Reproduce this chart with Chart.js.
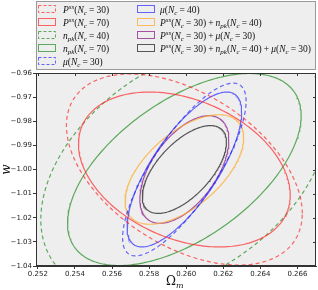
<!DOCTYPE html>
<html>
<head>
<meta charset="utf-8">
<script src="https://cdn.jsdelivr.net/npm/chart.js@4"></script>
<style>
  html, body { margin: 0; padding: 0; background: #fff; }
</style>
</head>
<body>
<canvas id="contours" width="318" height="290"></canvas>
<script>
// forecast contours, one entry per probe combination
const labels = [
  "P^{ss}(N_c=30)",
  "P^{ss}(N_c=70)",
  "n_{pk}(N_c=40)",
  "n_{pk}(N_c=70)",
  "μ(N_c=30)",
  "μ(N_c=40)",
  "P^{ss}(N_c=30)+n_{pk}(N_c=40)",
  "P^{ss}(N_c=30)+μ(N_c=30)",
  "P^{ss}(N_c=30)+n_{pk}(N_c=40)+μ(N_c=30)"
];
const colors = [
  "rgba(255,40,40,0.7)", "rgba(255,40,40,0.7)",
  "rgba(30,140,30,0.7)", "rgba(30,140,30,0.7)",
  "rgba(40,40,255,0.7)", "rgba(40,40,255,0.7)",
  "rgba(255,170,40,0.75)", "rgba(140,30,140,0.75)", "rgba(20,20,20,0.7)"
];
const dashed = [true, false, true, false, true, false, false, false, false];

// fiducial point and contour half-widths / correlations
const fidOm = 0.2599;
const fidW = -1.0;
const sigOm = [0.00636, 0.00571, 0.00774, 0.00630, 0.00333, 0.00309, 0.00320, 0.00240, 0.00227];
const sigW  = [0.0396, 0.0321, 0.0518, 0.0398, 0.0358, 0.0321, 0.0227, 0.0223, 0.0182];
const corr  = [-0.46, -0.33, 0.40, 0.56, 0.79, 0.74, 0.58, 0.55, 0.62];

const xTicks = [0.252, 0.254, 0.256, 0.258, 0.260, 0.262, 0.264, 0.266];
const yTicks = [-1.04, -1.03, -1.02, -1.01, -1.00, -0.99, -0.98, -0.97, -0.96];

function contour(i) {
  const pts = [];
  const n = 240;
  const s = Math.sqrt(1 - corr[i] * corr[i]);
  for (let k = 0; k <= n; k++) {
    const t = 2 * Math.PI * k / n;
    pts.push({
      x: fidOm + sigOm[i] * Math.cos(t),
      y: fidW + sigW[i] * (corr[i] * Math.cos(t) + s * Math.sin(t))
    });
  }
  return pts;
}

// tiny mathtext: letters italic, ^{..} sup, _{..} sub
function parseTex(str) {
  const out = [];
  let i = 0;
  while (i < str.length) {
    const ch = str[i];
    if (ch === '^' || ch === '_') {
      let t;
      if (str[i + 1] === '{') {
        const j = str.indexOf('}', i);
        t = str.slice(i + 2, j);
        i = j + 1;
      } else {
        t = str[i + 1];
        i += 2;
      }
      out.push({ t: t, k: ch === '^' ? 'sup' : 'sub' });
    } else {
      out.push({ t: ch, k: /[A-Za-zμ]/.test(ch) ? 'it' : 'rm' });
      i++;
    }
  }
  return out;
}

function drawTex(ctx, str, x, y, fs) {
  const fam = '"Liberation Serif", serif';
  ctx.textBaseline = 'alphabetic';
  ctx.textAlign = 'left';
  for (const p of parseTex(str)) {
    let dy = 0;
    if (p.k === 'it') ctx.font = `italic ${fs}px ${fam}`;
    else if (p.k === 'rm') ctx.font = `${fs}px ${fam}`;
    else {
      ctx.font = `italic ${Math.round(fs * 0.7)}px ${fam}`;
      dy = p.k === 'sup' ? -fs * 0.4 : fs * 0.22;
    }
    const pad = (p.t === '=' || p.t === '+') ? fs * 0.22 : 0;
    x += pad;
    ctx.fillText(p.t, x, y + dy);
    x += ctx.measureText(p.t).width + pad;
  }
  return x;
}

const decor = {
  id: 'decor',
  beforeDraw(chart) {
    const { ctx, chartArea: a } = chart;
    ctx.save();
    ctx.fillStyle = '#fff';
    ctx.fillRect(0, 0, chart.width, chart.height);
    ctx.fillStyle = '#eeeeee';
    ctx.fillRect(a.left, a.top, a.right - a.left, a.bottom - a.top);
    ctx.restore();
  },
  afterDraw(chart) {
    const { ctx, chartArea: a, scales } = chart;
    ctx.save();
    ctx.strokeStyle = '#333';
    ctx.lineWidth = 1;
    ctx.strokeRect(a.left + 0.5, a.top + 0.5, a.right - a.left - 1, a.bottom - a.top - 1);
    // inner ticks on top and right
    ctx.beginPath();
    for (const v of xTicks) {
      const px = Math.round(scales.x.getPixelForValue(v)) + 0.5;
      ctx.moveTo(px, a.top); ctx.lineTo(px, a.top + 3);
    }
    for (const v of yTicks) {
      const py = Math.round(scales.y.getPixelForValue(v)) + 0.5;
      ctx.moveTo(a.right, py); ctx.lineTo(a.right - 3, py);
    }
    ctx.stroke();

    // legend
    ctx.fillStyle = '#eeeeee';
    ctx.strokeStyle = '#999';
    ctx.fillRect(36.5, 1.5, 279, 68);
    ctx.strokeRect(36.5, 1.5, 279, 68);
    const rows = [9, 22, 35, 48, 61];
    labels.forEach((lab, i) => {
      const col = i < 5 ? 0 : 1;
      const ry = col === 0 ? rows[i] : rows[i - 5];
      const hx = col === 0 ? 38.5 : 137.5;
      ctx.strokeStyle = colors[i];
      ctx.lineWidth = 1;
      ctx.setLineDash(dashed[i] ? [3, 2] : []);
      ctx.strokeRect(hx, ry - 3.5, 17, 7);
      ctx.setLineDash([]);
      ctx.fillStyle = '#111';
      drawTex(ctx, lab, col === 0 ? 63 : 160, ry + 3.5, 9.5);
    });

    // axis titles
    ctx.fillStyle = '#111';
    ctx.font = '12px "DejaVu Serif", serif';
    const om = 'Ω';
    const w0 = ctx.measureText(om).width;
    const cx = (a.left + a.right) / 2 - 5;
    ctx.textAlign = 'left';
    ctx.fillText(om, cx - w0 / 2, 285);
    ctx.font = 'italic 8px "DejaVu Serif", serif';
    ctx.fillText('m', cx + w0 / 2, 288);
    ctx.translate(10, (a.top + a.bottom) / 2);
    ctx.rotate(-Math.PI / 2);
    ctx.textAlign = 'center';
    ctx.font = 'italic 12px "DejaVu Serif", serif';
    ctx.fillText('w', 0, 0);
    ctx.restore();
  }
};

const datasets = labels.map((lab, i) => ({
  label: lab,
  data: contour(i),
  borderColor: colors[i],
  borderWidth: 1.2,
  borderDash: dashed[i] ? [4, 3] : [],
  showLine: true,
  fill: false,
  pointRadius: 0,
  tension: 0
}));

new Chart(document.getElementById('contours'), {
  type: 'scatter',
  data: { datasets: datasets },
  options: {
    responsive: false,
    animation: false,
    devicePixelRatio: 1,
    layout: { padding: { top: 73, right: 2, left: 0, bottom: 0 } },
    plugins: {
      legend: { display: false },
      tooltip: { enabled: false }
    },
    scales: {
      x: {
        type: 'linear',
        min: 0.2519,
        max: 0.2670,
        afterBuildTicks: s => { s.ticks = xTicks.map(v => ({ value: v })); },
        afterFit: s => { s.height = 24; },
        ticks: {
          autoSkip: false,
          maxRotation: 0,
          padding: 1,
          color: '#222',
          font: { size: 7, family: '"DejaVu Sans"' },
          callback: v => v.toFixed(3)
        },
        grid: { drawOnChartArea: false, tickLength: 3, color: '#333' },
        border: { color: '#333' }
      },
      y: {
        type: 'linear',
        min: -1.04,
        max: -0.96,
        afterBuildTicks: s => { s.ticks = yTicks.map(v => ({ value: v })); },
        afterFit: s => { s.width = 36; },
        ticks: {
          autoSkip: false,
          padding: 1,
          color: '#222',
          font: { size: 7, family: '"DejaVu Sans"' },
          callback: v => v.toFixed(2).replace('-', '\u2212')
        },
        grid: { drawOnChartArea: false, tickLength: 3, color: '#333' },
        border: { color: '#333' }
      }
    }
  },
  plugins: [decor]
});
</script>
</body>
</html>
